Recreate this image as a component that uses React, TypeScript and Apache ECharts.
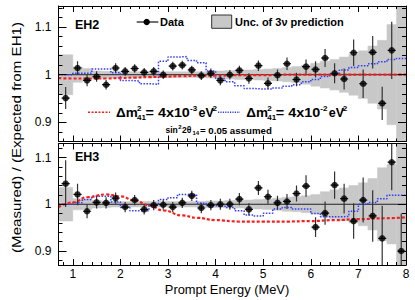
import React, { useEffect, useRef } from 'react';
import * as echarts from 'echarts';

const FONT = '"Liberation Sans", Arial, Helvetica, sans-serif';

// Prompt energy bin centres (MeV) of the data points
const energies = [0.85, 1.1, 1.3, 1.5, 1.7, 1.9, 2.1, 2.3, 2.5, 2.7, 2.9, 3.1, 3.3, 3.5, 3.7, 3.9, 4.1, 4.3, 4.5, 4.7, 4.9, 5.1, 5.3, 5.5, 5.7, 5.9, 6.1, 6.3, 6.5, 6.7, 6.9, 7.1, 7.3, 7.5, 7.7, 7.9];

// EH2 data (ratio and error)
const eh2Ratio = [0.951, 1.014, 0.988, 0.996, 0.979, 1.014, 1.007, 1.013, 1.005, 1.007, 1.0, 1.018, 1.02, 1.01, 0.998, 1.003, 0.988, 1.0, 1.009, 0.992, 1.019, 0.982, 0.999, 1.023, 0.99, 1.017, 1.011, 1.035, 1.003, 0.991, 1.046, 0.981, 1.047, 0.94, 1.051];
const eh2Err = [0.023, 0.014, 0.012, 0.011, 0.01, 0.01, 0.009, 0.009, 0.009, 0.009, 0.009, 0.009, 0.009, 0.009, 0.009, 0.01, 0.01, 0.01, 0.01, 0.011, 0.011, 0.012, 0.012, 0.013, 0.014, 0.015, 0.017, 0.019, 0.021, 0.022, 0.028, 0.03, 0.034, 0.035, 0.06];

// EH3 data (ratio and error)
const eh3Ratio = [1.044, 1.021, 0.985, 1.004, 1.003, 1.013, 0.994, 1.009, 0.989, 0.998, 0.999, 0.994, 1.003, 1.018, 0.992, 0.998, 1.0, 1.0, 1.011, 0.989, 1.035, 1.016, 1.003, 1.006, 1.023, 1.039, 0.951, 0.981, 1.041, 1.012, 0.964, 1.009, 0.975, 0.927, 1.09, 0.9];
const eh3Err = [0.05, 0.023, 0.015, 0.013, 0.012, 0.012, 0.011, 0.011, 0.011, 0.011, 0.011, 0.011, 0.011, 0.011, 0.011, 0.011, 0.012, 0.012, 0.013, 0.013, 0.015, 0.015, 0.015, 0.016, 0.017, 0.023, 0.021, 0.025, 0.029, 0.032, 0.038, 0.048, 0.055, 0.07, 0.06, 0.08];

// Prediction histogram bins
const binLow = [0.7, 1.0, 1.2, 1.4, 1.6, 1.8, 2.0, 2.2, 2.4, 2.6, 2.8, 3.0, 3.2, 3.4, 3.6, 3.8, 4.0, 4.2, 4.4, 4.6, 4.8, 5.0, 5.2, 5.4, 5.6, 5.8, 6.0, 6.2, 6.4, 6.6, 6.8, 7.0, 7.2, 7.4, 7.6, 7.8];
const binHigh = [1.0, 1.2, 1.4, 1.6, 1.8, 2.0, 2.2, 2.4, 2.6, 2.8, 3.0, 3.2, 3.4, 3.6, 3.8, 4.0, 4.2, 4.4, 4.6, 4.8, 5.0, 5.2, 5.4, 5.6, 5.8, 6.0, 6.2, 6.4, 6.6, 6.8, 7.0, 7.2, 7.4, 7.6, 7.8, 8.0];

// Half width of the 3-nu prediction uncertainty band
const eh2BandHalf = [0.042, 0.016, 0.013, 0.008, 0.007, 0.007, 0.006, 0.006, 0.006, 0.006, 0.006, 0.006, 0.006, 0.006, 0.006, 0.007, 0.008, 0.009, 0.01, 0.01, 0.011, 0.012, 0.013, 0.015, 0.017, 0.02, 0.024, 0.028, 0.032, 0.037, 0.043, 0.05, 0.06, 0.072, 0.105, 0.2];
const eh3BandHalf = [0.036, 0.012, 0.011, 0.008, 0.007, 0.006, 0.006, 0.006, 0.006, 0.006, 0.006, 0.006, 0.006, 0.006, 0.006, 0.007, 0.007, 0.008, 0.008, 0.009, 0.01, 0.011, 0.013, 0.015, 0.016, 0.018, 0.021, 0.027, 0.031, 0.035, 0.04, 0.046, 0.055, 0.078, 0.085, 0.2];

// Sterile prediction, dm2_41 = 4e-2 eV^2 (per bin, step histogram)
const eh2Sterile40 = [1.0, 1.003, 1.003, 1.012, 1.012, 1.004, 0.988, 0.987, 0.981, 0.98, 1.028, 1.037, 1.038, 1.03, 1.025, 1.008, 0.992, 0.985, 0.977, 0.971, 0.97, 0.97, 0.972, 0.976, 0.979, 0.985, 0.99, 0.996, 1.002, 1.01, 1.015, 1.019, 1.023, 1.027, 1.032, 1.034];
const eh3Sterile40 = [1.0, 1.003, 1.01, 1.017, 1.017, 1.005, 0.993, 0.986, 0.986, 0.998, 1.01, 1.014, 1.021, 1.021, 1.002, 0.997, 0.996, 0.993, 0.986, 0.977, 0.975, 0.981, 0.99, 0.993, 0.99, 0.99, 0.98, 0.973, 0.973, 0.974, 0.985, 1.0, 1.004, 1.012, 1.019, 1.019];

// Sterile prediction, dm2_41 = 4e-3 eV^2 (smooth curve)
const sterile4E = [0.7, 1.0, 1.3, 1.7, 2.0, 2.3, 2.6, 2.9, 3.3, 3.6, 4.0, 4.5, 5.0, 5.5, 6.0, 6.5, 7.0, 7.5, 8.0];
const eh2Sterile4 = [0.993, 0.992, 0.992, 0.992, 0.993, 0.994, 0.995, 0.996, 0.997, 0.998, 0.998, 0.999, 0.999, 1.0, 1.0, 1.0, 1.0, 1.0, 1.0];
const eh3Sterile4 = [0.994, 1.004, 1.015, 1.021, 1.017, 1.008, 0.998, 0.987, 0.976, 0.971, 0.966, 0.963, 0.963, 0.963, 0.964, 0.966, 0.968, 0.97, 0.972];

// Axis ticks
const xMajorTicks = [1, 2, 3, 4, 5, 6, 7, 8];
const yMajorTicks = [0.9, 1, 1.1];
const X_MIN = 0.7;
const X_MAX = 8;
const PANELS = [
  { min: 0.86, max: 1.144 },
  { min: 0.87, max: 1.13 },
];

function stepValues(a: number, b: number, s: number) {
  const out: number[] = [];
  for (let v = a; v <= b + 1e-9; v += s) out.push(Math.round(v * 100) / 100);
  return out;
}
const xMinorTicks = stepValues(0.8, 8.0, 0.2);

function xAxesFor(g: number, showLabels: boolean) {
  const base = {
    type: 'value', gridIndex: g, min: X_MIN, max: X_MAX, z: 10,
    splitLine: { show: false }, axisLine: { show: false },
  };
  const tickStyle = { color: '#000', width: 1 };
  return [
    {
      ...base, position: 'bottom',
      axisLine: { show: true, lineStyle: { color: '#000', width: 1 } },
      axisTick: { show: true, inside: true, length: 6, customValues: xMajorTicks, lineStyle: tickStyle },
      axisLabel: { show: showLabels, customValues: xMajorTicks, margin: 3, fontSize: 12, color: '#000', fontFamily: FONT },
    },
    {
      ...base, position: 'bottom',
      axisTick: { show: true, inside: true, length: 3, customValues: xMinorTicks, lineStyle: tickStyle },
      axisLabel: { show: false },
    },
    {
      ...base, position: 'top',
      axisLine: { show: true, lineStyle: { color: '#000', width: 1 } },
      axisTick: { show: true, inside: true, length: 6, customValues: xMajorTicks, lineStyle: tickStyle },
      axisLabel: { show: false },
    },
    {
      ...base, position: 'top',
      axisTick: { show: true, inside: true, length: 3, customValues: xMinorTicks, lineStyle: tickStyle },
      axisLabel: { show: false },
    },
  ];
}

function yAxesFor(g: number) {
  const { min, max } = PANELS[g];
  const minor = stepValues(Math.ceil(min * 50 - 1e-6) / 50, max, 0.02);
  const base = {
    type: 'value', gridIndex: g, min, max, z: 10,
    splitLine: { show: false }, axisLine: { show: false },
  };
  const tickStyle = { color: '#000', width: 1 };
  return [
    {
      ...base, position: 'left',
      axisLine: { show: true, lineStyle: { color: '#000', width: 1 } },
      axisTick: { show: true, inside: true, length: 8, customValues: yMajorTicks, lineStyle: tickStyle },
      axisLabel: {
        show: true, customValues: yMajorTicks, margin: 7, fontSize: 12, color: '#000', fontFamily: FONT,
        formatter: (v: number) => (Math.abs(v - 1) < 1e-9 ? '1' : v.toFixed(1)),
      },
    },
    {
      ...base, position: 'left',
      axisTick: { show: true, inside: true, length: 4, customValues: minor, lineStyle: tickStyle },
      axisLabel: { show: false },
    },
    {
      ...base, position: 'right',
      axisLine: { show: true, lineStyle: { color: '#000', width: 1 } },
      axisTick: { show: true, inside: true, length: 8, customValues: yMajorTicks, lineStyle: tickStyle },
      axisLabel: { show: false },
    },
    {
      ...base, position: 'right',
      axisTick: { show: true, inside: true, length: 4, customValues: minor, lineStyle: tickStyle },
      axisLabel: { show: false },
    },
  ];
}

function panelSeries(g: number, ratio: number[], err: number[], band: number[], st40: number[], st4: number[]) {
  const xi = g * 4;
  const yi = g * 4;
  const bandData = binLow.map((lo, i) => [lo, binHigh[i], 1 - band[i], 1 + band[i]]);
  const stepData = binLow.map((lo, i) => [lo, st40[i]]);
  stepData.push([binHigh[binHigh.length - 1], st40[st40.length - 1]]);
  const pts = ratio.map((v, i) => [energies[i], v, err[i]]);
  return [
    {
      type: 'custom', xAxisIndex: xi, yAxisIndex: yi, clip: true, z: 1, silent: true,
      data: bandData,
      encode: { x: [0, 1], y: [2, 3] },
      renderItem: (params: any, api: any) => {
        const a = api.coord([api.value(0), api.value(3)]);
        const b = api.coord([api.value(1), api.value(2)]);
        return {
          type: 'rect',
          shape: { x: a[0], y: a[1], width: b[0] - a[0], height: b[1] - a[1] },
          style: { fill: '#c8c8c8', stroke: '#c8c8c8', lineWidth: 0.5 },
        };
      },
    },
    {
      type: 'line', xAxisIndex: xi, yAxisIndex: yi, z: 2, silent: true,
      data: [[X_MIN, 1], [X_MAX, 1]], showSymbol: false, symbol: 'none',
      lineStyle: { color: '#222', width: 1 },
    },
    {
      type: 'line', xAxisIndex: xi, yAxisIndex: yi, z: 3, silent: true,
      data: stepData, step: 'end', showSymbol: false, symbol: 'none',
      lineStyle: { color: '#2f3cff', width: 1.5, type: [1.5, 1.5] },
    },
    {
      type: 'line', xAxisIndex: xi, yAxisIndex: yi, z: 4, silent: true,
      data: sterile4E.map((e, i) => [e, st4[i]]), smooth: 0.5, smoothMonotone: 'x',
      showSymbol: false, symbol: 'none',
      lineStyle: { color: '#ff1a1a', width: 2.2, type: [3, 2] },
    },
    {
      type: 'custom', xAxisIndex: xi, yAxisIndex: yi, clip: true, z: 5, silent: true,
      data: pts,
      encode: { x: 0, y: 1 },
      renderItem: (params: any, api: any) => {
        const x = api.value(0);
        const y = api.value(1);
        const e = api.value(2);
        const t = api.coord([x, y + e]);
        const b = api.coord([x, y - e]);
        const l = api.coord([x - 0.085, y]);
        const r = api.coord([x + 0.085, y]);
        return {
          type: 'group',
          children: [
            { type: 'line', shape: { x1: t[0], y1: t[1], x2: b[0], y2: b[1] }, style: { stroke: '#333', lineWidth: 1.2 } },
            { type: 'line', shape: { x1: l[0], y1: l[1], x2: r[0], y2: r[1] }, style: { stroke: '#111', lineWidth: 1.2 } },
          ],
        };
      },
    },
    {
      type: 'scatter', xAxisIndex: xi, yAxisIndex: yi, z: 6, silent: true,
      data: pts.map((p) => [p[0], p[1]]), symbol: 'circle', symbolSize: 6.5,
      itemStyle: { color: '#000' },
    },
  ];
}

function txt(text: string, x: number, y: number, size: number, opts: any = {}) {
  const align = opts.align || 'left';
  return {
    type: 'text', x, y, z: 20,
    rotation: opts.rotation || 0,
    scaleX: opts.scaleX || 1,
    style: {
      text, fontSize: size, fontWeight: opts.weight || 'bold', fontFamily: FONT, fill: '#000',
      align, textAlign: align, verticalAlign: 'middle', textVerticalAlign: 'middle',
    },
  };
}

function dmLegend(dx: number, exp: string) {
  return [
    txt('Δm', 116 + dx, 113, 12.5, { scaleX: 1.08 }),
    txt('2', 137 + dx, 108, 8),
    txt('41', 137 + dx, 117.5, 8),
    txt('= 4x10', 145.5 + dx, 113, 12.5, { scaleX: 1.15 }),
    txt(exp, 190 + dx, 108, 8),
    txt('eV', 198.5 + dx, 113, 12.5),
    txt('2', 212.5 + dx, 108, 8),
  ];
}

export default function App() {
  const ref = useRef<HTMLDivElement>(null);
  useEffect(() => {
    document.body.style.margin = '0';
    if (!ref.current) return;
    const chart = echarts.init(ref.current, null, { renderer: 'svg' });
    const graphics: any[] = [
      txt('EH2', 75, 25, 12.5),
      txt('EH3', 75, 156.7, 12.5),
      { type: 'line', z: 20, shape: { x1: 136.7, y1: 22, x2: 158.3, y2: 22 }, style: { stroke: '#111', lineWidth: 1.2 } },
      { type: 'circle', z: 21, shape: { cx: 146.7, cy: 22, r: 3.2 }, style: { fill: '#000' } },
      txt('Data', 160, 22, 11),
      { type: 'rect', z: 20, shape: { x: 211.7, y: 15, width: 20, height: 13.3 }, style: { fill: '#c8c8c8', stroke: '#333', lineWidth: 1 } },
      txt('Unc. of 3ν prediction', 235, 22, 11),
      { type: 'line', z: 20, shape: { x1: 88, y1: 112.3, x2: 110, y2: 112.3 }, style: { stroke: '#ff1a1a', lineWidth: 1.6, lineDash: [2, 1.5] } },
      ...dmLegend(0, '-3'),
      { type: 'line', z: 20, shape: { x1: 218, y1: 112.3, x2: 240, y2: 112.3 }, style: { stroke: '#2f3cff', lineWidth: 1.6, lineDash: [1.2, 1.2] } },
      ...dmLegend(130.3, '-2'),
      txt('sin', 165.5, 130.3, 8.5),
      txt('2', 178.3, 127, 6),
      txt('2θ', 182, 130.3, 8.5),
      txt('14', 192.5, 133.3, 6),
      txt('= 0.05 assumed', 200, 130.3, 9.5, { scaleX: 1.02 }),
      txt('Prompt Energy (MeV)', 227, 290, 12.5, { align: 'center', weight: 'normal', scaleX: 1.03 }),
      txt('(Measured) / (Expected from EH1)', 16.5, 137.5, 13.5, { align: 'center', weight: 'normal', rotation: Math.PI / 2, scaleX: 1.12 }),
    ];
    const option: any = {
      animation: false,
      grid: [
        { left: 58.5, top: 6, width: 347.5, height: 135.5, containLabel: false },
        { left: 58.5, top: 143.5, width: 347.5, height: 121.5, containLabel: false },
      ],
      xAxis: [...xAxesFor(0, false), ...xAxesFor(1, true)],
      yAxis: [...yAxesFor(0), ...yAxesFor(1)],
      series: [
        ...panelSeries(0, eh2Ratio, eh2Err, eh2BandHalf, eh2Sterile40, eh2Sterile4),
        ...panelSeries(1, eh3Ratio, eh3Err, eh3BandHalf, eh3Sterile40, eh3Sterile4),
      ],
      graphic: { elements: graphics },
    };
    chart.setOption(option);
    return () => chart.dispose();
  }, []);
  return <div ref={ref} style={{ width: 415, height: 300 }} />;
}
